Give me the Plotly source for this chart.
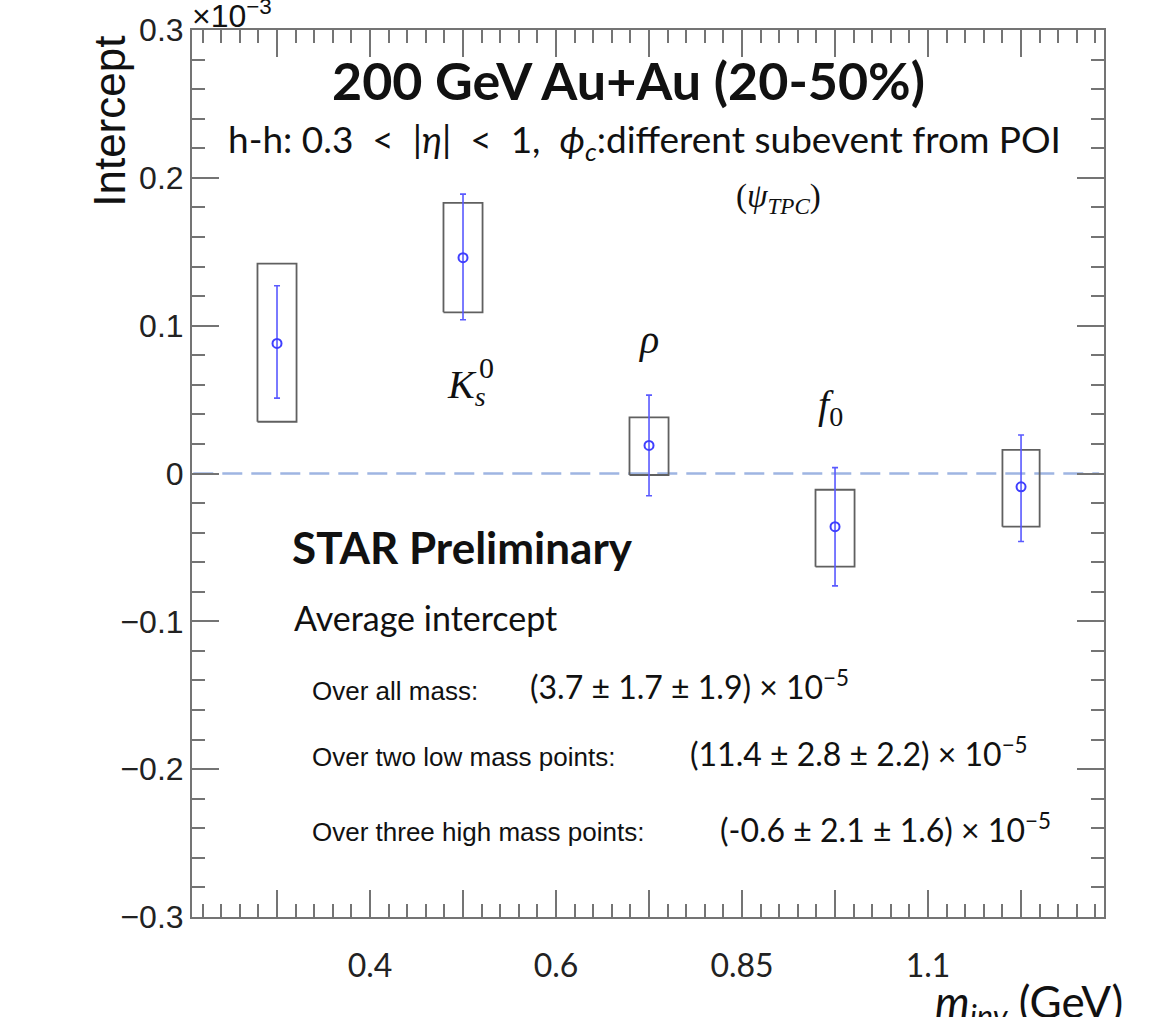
import plotly.graph_objects as go

# ---- data (intercept in units of 1e-3) ----
x_pos = [1, 2, 3, 4, 5]
y_val = [0.088, 0.146, 0.019, -0.036, -0.009]
stat_hi = [0.127, 0.189, 0.053, 0.004, 0.026]
stat_lo = [0.051, 0.104, -0.015, -0.076, -0.046]
sys_hi = [0.142, 0.183, 0.038, -0.011, 0.016]
sys_lo = [0.035, 0.109, -0.001, -0.063, -0.036]
box_half = [0.105, 0.105, 0.105, 0.105, 0.1]
xtick_vals = [1.5, 2.5, 3.5, 4.5]
xtick_text = ["0.4", "0.6", "0.85", "1.1"]
ytick_vals = [-0.3, -0.2, -0.1, 0, 0.1, 0.2, 0.3]
ytick_text = ["\u22120.3", "\u22120.2", "\u22120.1", "0", "0.1", "0.2", "0.3"]

W, H = 1176, 1017
L, R, T, B = 192, 72, 28, 100
PW, PH = W - L - R, H - T - B


def pp(xp, yp):
    return (xp - L) / PW, (H - B - yp) / PH


fig = go.Figure()

# zero line
fig.add_trace(go.Scatter(x=[0.55, 5.42], y=[0, 0], mode="lines",
                         line=dict(color="#9fb5e2", width=2.6, dash="20px,9px"),
                         hoverinfo="skip", showlegend=False))

# systematic boxes
bx, by = [], []
for xi, lo, hi, hw in zip(x_pos, sys_lo, sys_hi, box_half):
    bx += [xi - hw, xi + hw, xi + hw, xi - hw, xi - hw, None]
    by += [lo, lo, hi, hi, lo, None]
fig.add_trace(go.Scatter(x=bx, y=by, mode="lines",
                         line=dict(color="#606060", width=1.8),
                         hoverinfo="skip", showlegend=False))

# points with stat errors
fig.add_trace(go.Scatter(
    x=x_pos, y=y_val, mode="markers",
    marker=dict(symbol="circle-open", size=9, color="#3f3fff", line=dict(width=2)),
    error_y=dict(type="data", symmetric=False,
                 array=[h - v for h, v in zip(stat_hi, y_val)],
                 arrayminus=[v - l for v, l in zip(y_val, stat_lo)],
                 color="#5a5aff", thickness=1.6, width=3),
    showlegend=False))

axcol = "#747474"
fig.update_xaxes(range=[0.543, 5.446], showgrid=False, zeroline=False,
                 showline=True, linecolor=axcol, linewidth=2, mirror="allticks",
                 ticks="inside", ticklen=27, tickcolor=axcol, tickwidth=1.5,
                 tickmode="array", tickvals=[1, 1.5, 2, 2.5, 3, 3.5, 4, 4.5, 5],
                 ticktext=["", xtick_text[0], "", xtick_text[1], "", xtick_text[2], "", xtick_text[3], ""],
                 ticklabelstandoff=20,
                 tickfont=dict(family="Lato", size=32, color="#222"),
                 minor=dict(ticks="inside", ticklen=13, tickcolor=axcol, tickwidth=1.5,
                            tick0=1, dtick=0.1, showgrid=False))
fig.update_yaxes(range=[-0.3, 0.3], showgrid=False, zeroline=False,
                 showline=True, linecolor=axcol, linewidth=2, mirror="allticks",
                 ticks="inside", ticklen=27, tickcolor=axcol, tickwidth=1.5,
                 tickmode="array", tickvals=ytick_vals, ticktext=ytick_text,
                 ticklabelstandoff=0,
                 tickfont=dict(family="Liberation Sans", size=32, color="#222"),
                 minor=dict(ticks="inside", ticklen=13, tickcolor=axcol, tickwidth=1.5,
                            tick0=0, dtick=0.02, showgrid=False))

ann = []


def add(text, xp, yp, size, family="Lato", xanchor="left", yanchor="middle", color="#111", angle=0):
    x, y = pp(xp, yp)
    ann.append(dict(text=text, x=x, y=y, xref="paper", yref="paper", showarrow=False,
                    xanchor=xanchor, yanchor=yanchor, textangle=angle,
                    font=dict(family=family, size=size, color=color)))


add("<b>200 GeV Au+Au (20-50%)</b>", 628, 78, 52, xanchor="center")
add("h-h: 0.3 &nbsp;&lt;&nbsp; |<i>η</i>| &nbsp;&lt;&nbsp; 1, &nbsp;<i>ϕ</i><sub><i>c</i></sub>:different subevent from POI",
    226, 140, 37)
add("(<i>ψ</i><sub><i>TPC</i></sub>)", 778, 197, 33, family="Liberation Serif", xanchor="center")
add("<i>ρ</i>", 648, 338, 40, family="Liberation Serif", xanchor="center")
add("<i>K</i><sub><i>s</i></sub>", 466, 386, 40, family="Liberation Serif", xanchor="center")
add("0", 486, 366, 30, family="Liberation Serif", xanchor="center")
add("<i>f</i><sub>0</sub>", 830, 406, 40, family="Liberation Serif", xanchor="center")
add("<b>STAR Preliminary</b>", 290, 546, 44)
add("Average intercept", 292, 617, 34)
add("Over all mass:", 310, 690, 26, family="Liberation Sans")
add("(3.7 ± 1.7 ± 1.9) × 10<sup>−5</sup>", 528, 684, 32)
add("Over two low mass points:", 310, 757, 26, family="Liberation Sans")
add("(11.4 ± 2.8 ± 2.2) × 10<sup>−5</sup>", 688, 752, 32)
add("Over three high mass points:", 310, 832, 26, family="Liberation Sans")
add("(-0.6 ± 2.1 ± 1.6) × 10<sup>−5</sup>", 718, 828, 32)
add("Intercept", 110, 120, 44, family="Liberation Sans", xanchor="center", angle=-90)
add("×10<sup>−3</sup>", 190, 12, 32, family="Liberation Sans")
add("<i>m</i><sub><i>inv</i></sub> (GeV)", 933, 1005, 44)

fig.update_layout(width=W, height=H, margin=dict(l=L, r=R, t=T, b=B),
                  plot_bgcolor="white", paper_bgcolor="white",
                  annotations=ann, showlegend=False)

fig.write_html("out.html")
